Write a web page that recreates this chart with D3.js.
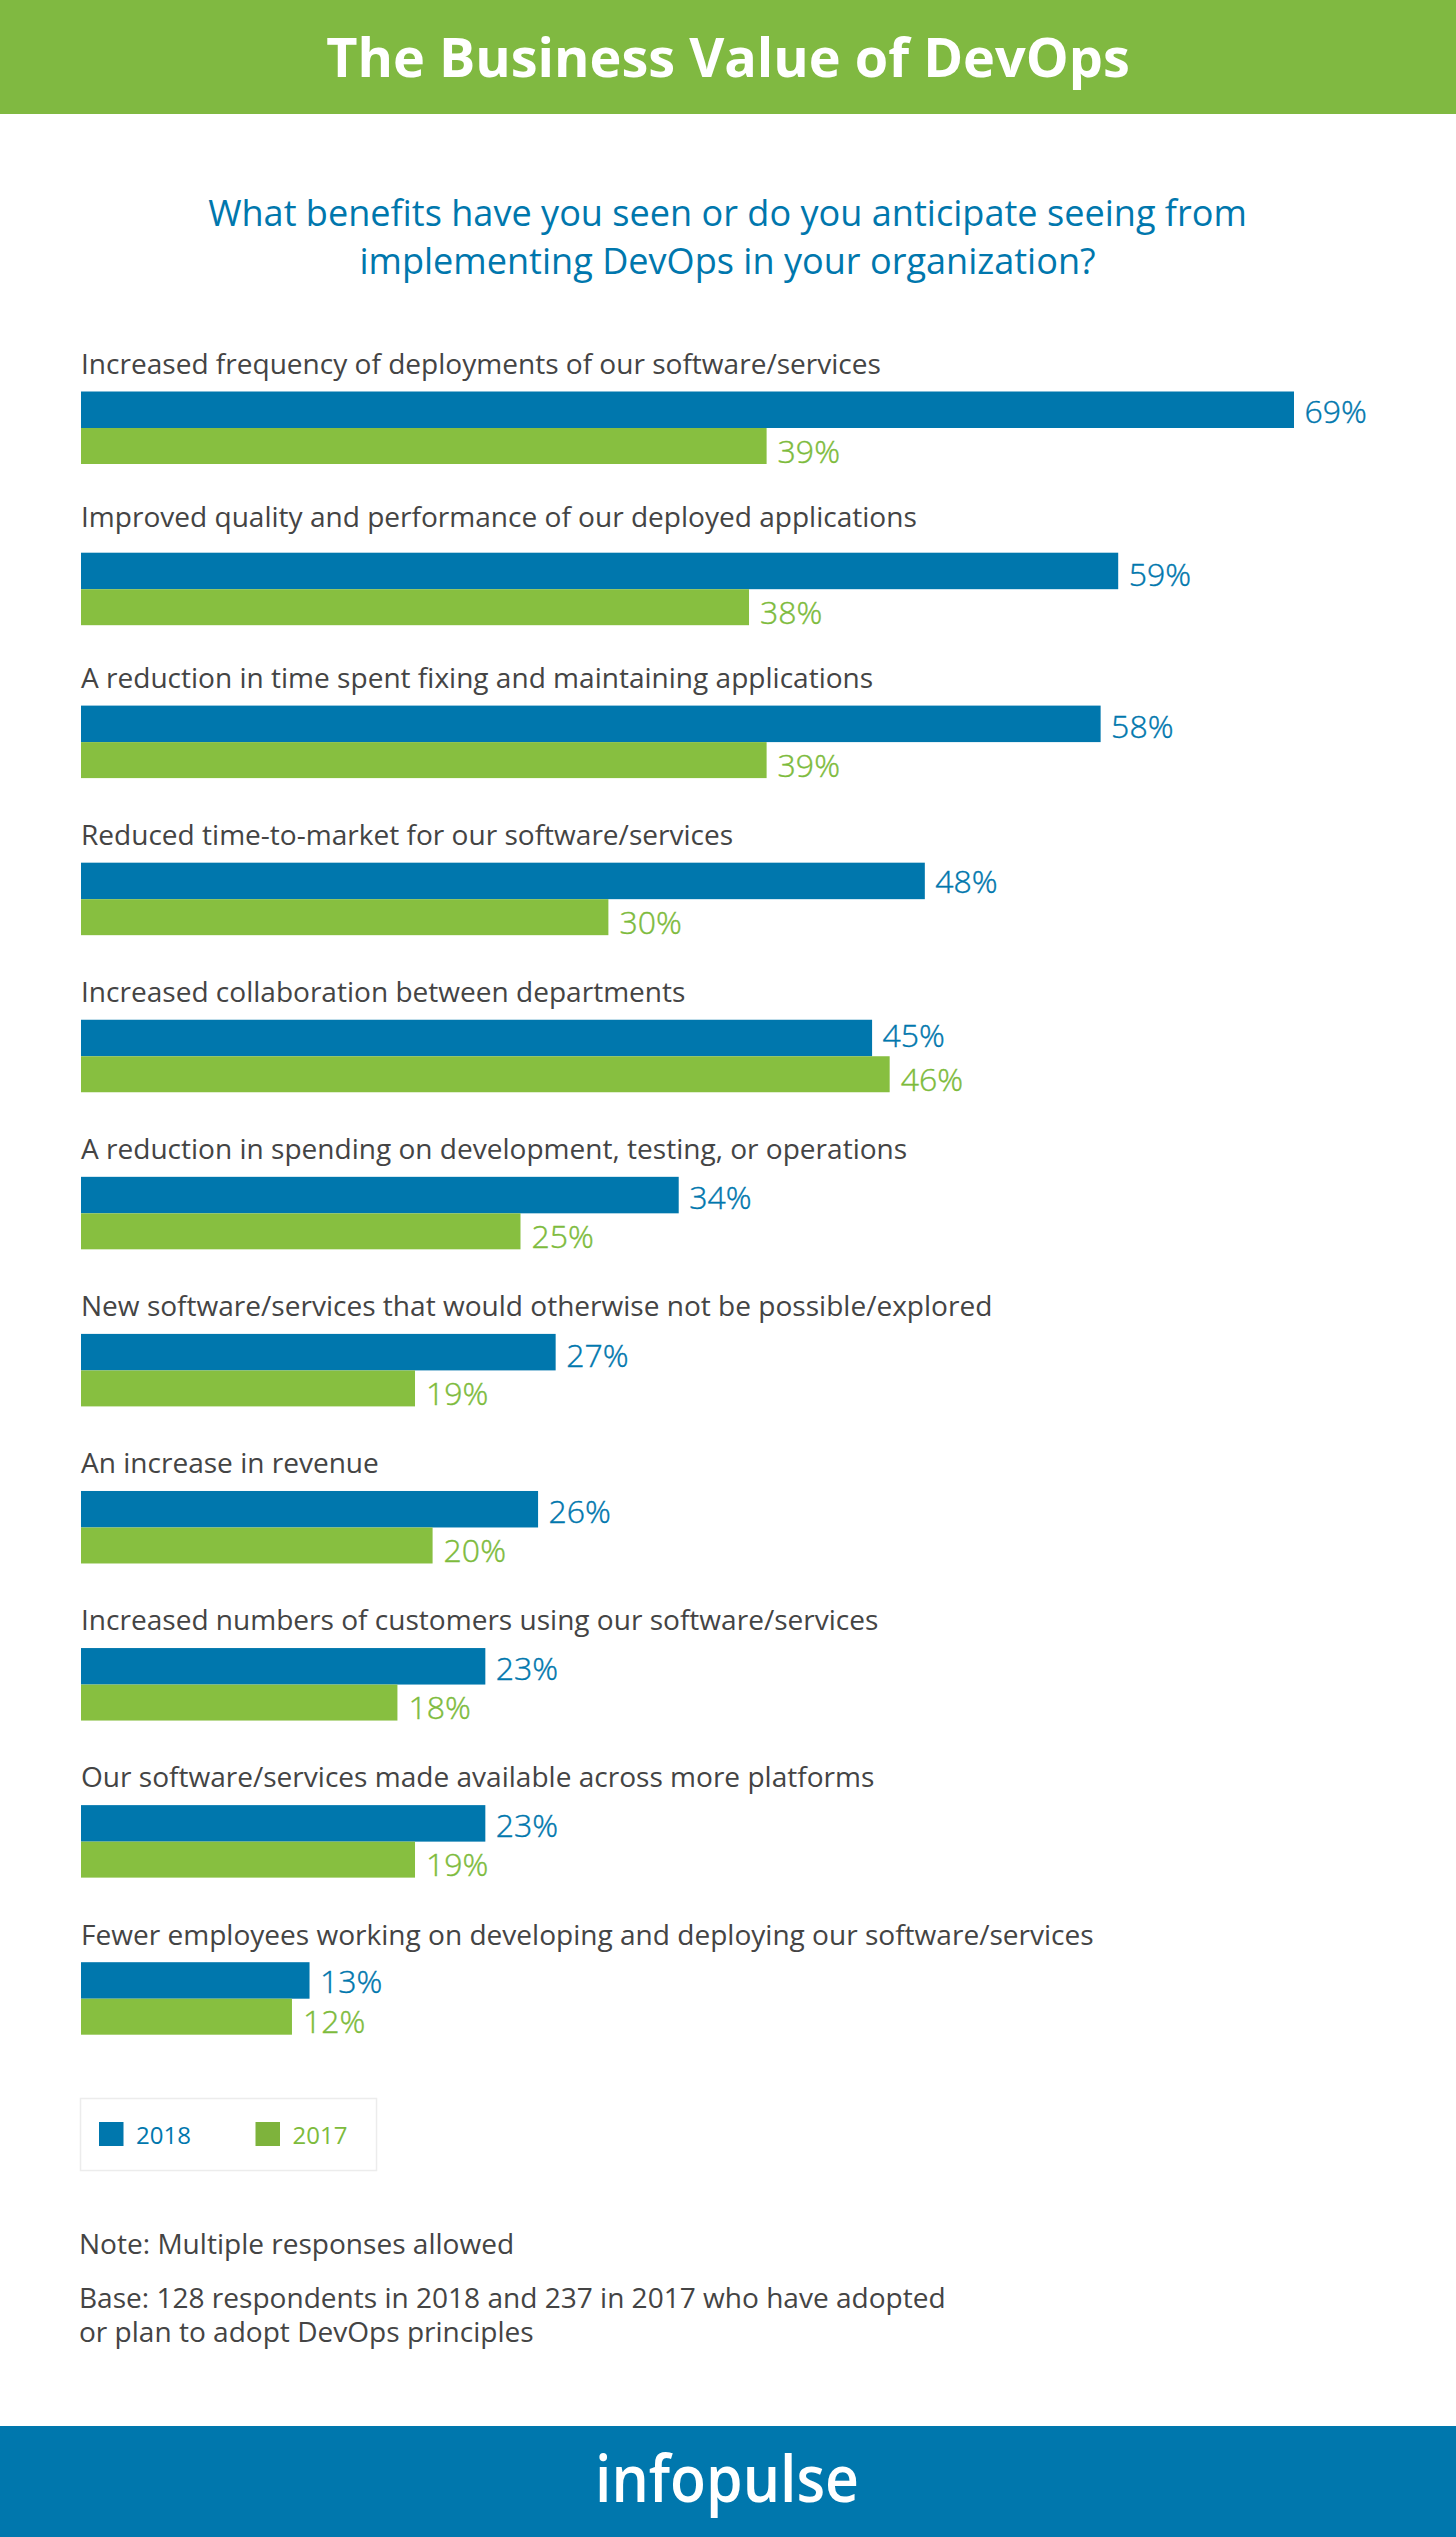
<!DOCTYPE html>
<html><head><meta charset="utf-8">
<script src="https://d3js.org/d3.v7.min.js"></script>
<style>html,body{margin:0;padding:0;background:#fff}svg{display:block}text{font-family:"Open Sans",sans-serif}</style>
</head><body><svg id="c" width="1456" height="2537"></svg>
<script>
const categories=["Increased frequency of deployments of our software/services","Improved quality and performance of our deployed applications","A reduction in time spent fixing and maintaining applications","Reduced time-to-market for our software/services","Increased collaboration between departments","A reduction in spending on development, testing, or operations","New software/services that would otherwise not be possible/explored","An increase in revenue","Increased numbers of customers using our software/services","Our software/services made available across more platforms","Fewer employees working on developing and deploying our software/services"];
const values2018=[69,59,58,48,45,34,27,26,23,23,13];
const values2017=[39,38,39,30,46,25,19,20,18,19,12];
const seriesNames=["2018","2017"];
const blue="#0077ad",green="#87bf40",dark="#444";
const svg=d3.select("#c");
const x=d3.scaleLinear().domain([0,69]).range([81,1294]);
const y=d3.scaleLinear().domain([0,1,2,10]).range([391.5,552.7,705.6,1962.2]);
const labelY=d3.scaleLinear().domain([0,1,2,10]).range([374,527,688,1944.5]);
const blueLabelDy=[31.7,33.3,32.6,30,27.3,32.6,32.7,32.3,32.4,31.5,30.7];
const blueH=36.5,greenH=36;
svg.append("rect").attr("x",0).attr("y",0).attr("width",1456).attr("height",114).attr("fill","#80b941");
svg.append("rect").attr("x",0).attr("y",2426).attr("width",1456).attr("height",111).attr("fill","#0077ad");
svg.append("text").attr("x",728).attr("y",77).attr("text-anchor","middle").attr("fill","#fff").attr("font-weight",700).attr("font-size",54).text("The Business Value of DevOps");
svg.selectAll("text.sub").data(["What benefits have you seen or do you anticipate seeing from","implementing DevOps in your organization?"]).join("text").attr("class","sub").attr("x",727.5).attr("y",(d,i)=>226+i*47.5).attr("text-anchor","middle").attr("fill",blue).attr("font-size",36.1).text(d=>d);
const g=svg.selectAll("g.row").data(categories).join("g").attr("class","row");
g.append("text").attr("x",81).attr("y",(d,i)=>labelY(i)).attr("fill",dark).attr("font-size",28.06).text(d=>d);
g.append("rect").attr("x",x(0)).attr("y",(d,i)=>y(i)).attr("width",(d,i)=>x(values2018[i])-x(0)).attr("height",blueH).attr("fill",blue);
g.append("rect").attr("x",x(0)).attr("y",(d,i)=>y(i)+blueH).attr("width",(d,i)=>x(values2017[i])-x(0)).attr("height",greenH).attr("fill",green);
g.append("text").attr("x",(d,i)=>x(values2018[i])+10.5).attr("y",(d,i)=>y(i)+blueLabelDy[i]).attr("fill",blue).attr("stroke",blue).attr("stroke-width",0.4).attr("font-weight",300).attr("font-size",32).text((d,i)=>values2018[i]+"%");
g.append("text").attr("x",(d,i)=>x(values2017[i])+11).attr("y",(d,i)=>y(i)+71).attr("fill","#7dbb3c").attr("stroke","#7dbb3c").attr("stroke-width",0.4).attr("font-weight",300).attr("font-size",32).text((d,i)=>values2017[i]+"%");
svg.append("rect").attr("x",80.5).attr("y",2098.5).attr("width",296).attr("height",72).attr("fill","none").attr("stroke","#ececec").attr("stroke-width",1.5);
const lx=[99,255.5];
seriesNames.forEach((s,i)=>{
 svg.append("rect").attr("x",lx[i]).attr("y",2122).attr("width",24.5).attr("height",24).attr("fill",i?"#7eb33c":blue);
 svg.append("text").attr("x",lx[i]+37).attr("y",2143.5).attr("fill",i?"#7dbb3c":blue).attr("font-size",24).text(s);
});
svg.selectAll("text.note").data([["Note: Multiple responses allowed",2254],["Base: 128 respondents in 2018 and 237 in 2017 who have adopted",2308],["or plan to adopt DevOps principles",2342]]).join("text").attr("class","note").attr("x",79).attr("y",d=>d[1]).attr("fill",dark).attr("font-size",28.06).text(d=>d[0]);
svg.append("text").attr("x",727).attr("y",2502).attr("text-anchor","middle").attr("fill","#fff").attr("font-weight",600).attr("font-size",66).attr("textLength",264).attr("lengthAdjust","spacingAndGlyphs").text("infopulse");
</script></body></html>
